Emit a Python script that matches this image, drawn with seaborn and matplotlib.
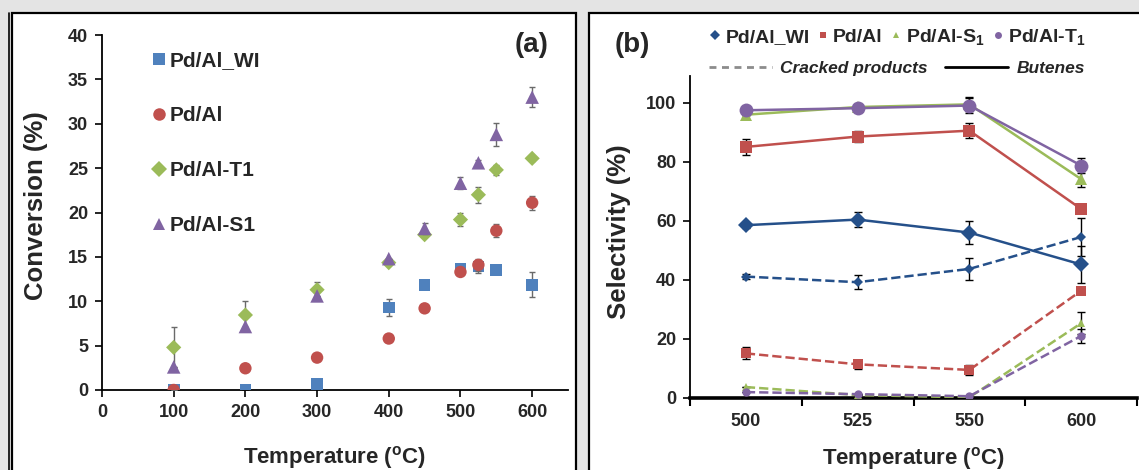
import numpy as np
import pandas as pd
import matplotlib
matplotlib.use("Agg")
import matplotlib.pyplot as plt
from matplotlib.lines import Line2D
from matplotlib.patches import Rectangle
import seaborn as sns

# ---------------- data: panel (a) conversion ----------------
temps_a = [100, 200, 300, 400, 450, 500, 525, 550, 600]
conv_wi = [0.0, 0.0, 0.65, 9.3, 11.85, 13.7, 13.9, 13.5, 11.85]
conv_wi_err = [0.0, 0.0, 0.0, 1.0, 0.4, 0.3, 0.7, 0.4, 1.4]
conv_al = [0.0, 2.45, 3.65, 5.8, 9.2, 13.3, 14.1, 17.95, 21.1]
conv_al_err = [0.0, 0.0, 0.0, 0.0, 0.0, 0.0, 0.7, 0.7, 0.8]
conv_t1 = [4.8, 8.45, 11.3, 14.35, 17.5, 19.2, 22.0, 24.8, 26.1]
conv_t1_err = [2.3, 1.6, 0.85, 0.0, 0.0, 0.7, 0.9, 0.6, 0.3]
conv_s1 = [2.6, 7.15, 10.6, 14.8, 18.2, 23.3, 25.6, 28.8, 33.0]
conv_s1_err = [0.0, 0.0, 0.0, 0.0, 0.6, 0.7, 0.3, 1.3, 1.1]
labels_a = ["Pd/Al_WI", "Pd/Al", "Pd/Al-T1", "Pd/Al-S1"]

# ---------------- data: panel (b) selectivity ----------------
temps_b = ["500", "525", "550", "600"]
but_wi = [58.5, 60.4, 56.0, 45.2]
but_wi_err = [0.8, 2.5, 3.8, 6.2]
but_al = [85.0, 88.5, 90.5, 64.0]
but_al_err = [2.7, 1.8, 2.6, 1.0]
but_s1 = [95.9, 98.5, 99.4, 74.1]
but_s1_err = [0.0, 0.5, 2.4, 2.8]
but_t1 = [97.4, 98.1, 99.0, 78.7]
but_t1_err = [0.0, 0.5, 2.4, 2.6]
crk_wi = [41.1, 39.2, 43.7, 54.5]
crk_wi_err = [0.8, 2.4, 3.7, 6.4]
crk_al = [15.1, 11.4, 9.5, 36.3]
crk_al_err = [2.0, 1.5, 1.8, 0.0]
crk_s1 = [3.7, 1.0, 0.2, 25.3]
crk_s1_err = [0.0, 0.0, 0.0, 3.7]
crk_t1 = [2.0, 1.3, 0.6, 21.0]
crk_t1_err = [0.0, 0.0, 0.0, 2.5]
labels_b = ["Pd/Al_WI", "Pd/Al", "Pd/Al-S$\\mathbf{_1}$", "Pd/Al-T$\\mathbf{_1}$"]

BLUE = "#4f81bd"
RED = "#c0504d"
GREEN = "#9bbb59"
PURPLE = "#8064a2"
NAVY = "#25508a"

sns.set_theme(style="white")
plt.rcParams["font.family"] = ["Liberation Sans", "DejaVu Sans"]
plt.rcParams["font.weight"] = "bold"
plt.rcParams["mathtext.fontset"] = "custom"
plt.rcParams["mathtext.rm"] = "Liberation Sans"
plt.rcParams["mathtext.bf"] = "Liberation Sans:bold"
plt.rcParams["mathtext.it"] = "Liberation Sans:italic:bold"

W, H = 1139, 470
fig = plt.figure(figsize=(W / 100, H / 100), dpi=100)
fig.patch.set_facecolor("#e4e4e4")

def px(x0, y0, x1, y1):
    return [x0 / W, 1 - y1 / H, (x1 - x0) / W, (y1 - y0) / H]

# panel frames
fig.patches.append(Rectangle((12 / W, -0.1), 564 / W, (H - 13) / H + 0.1, transform=fig.transFigure,
                             facecolor="white", edgecolor="black", lw=1.6, zorder=-5))
fig.patches.append(Rectangle((589 / W, -0.1), 0.6, (H - 13) / H + 0.1, transform=fig.transFigure,
                             facecolor="white", edgecolor="black", lw=1.6, zorder=-5))
fig.lines.append(Line2D([9 / W, 9 / W], [0, (H - 13) / H], transform=fig.transFigure,
                        color="black", lw=1.2, zorder=-4))

# ---------------- panel (a) ----------------
ax = fig.add_axes(px(102, 35, 568, 390))
ax.set_facecolor("none")
df_a = pd.DataFrame({
    "T": temps_a * 4,
    "conv": conv_wi + conv_al + conv_t1 + conv_s1,
    "err": conv_wi_err + conv_al_err + conv_t1_err + conv_s1_err,
    "cat": sum([[l] * len(temps_a) for l in labels_a], []),
})
pal_a = {"Pd/Al_WI": BLUE, "Pd/Al": RED, "Pd/Al-T1": GREEN, "Pd/Al-S1": PURPLE}
mk_a = {"Pd/Al_WI": "s", "Pd/Al": "o", "Pd/Al-T1": "D", "Pd/Al-S1": "^"}
sz_a = {"Pd/Al_WI": 70, "Pd/Al": 80, "Pd/Al-T1": 60, "Pd/Al-S1": 95}
for i, lab in enumerate(labels_a):
    d = df_a[df_a["cat"] == lab]
    ax.errorbar(d["T"], d["conv"], yerr=d["err"], fmt="none", ecolor="#6a6a6a",
                elinewidth=1.0, capsize=2.5, capthick=1.0, zorder=2 + i)
    sns.scatterplot(data=d, x="T", y="conv", color=pal_a[lab], marker=mk_a[lab],
                    s=sz_a[lab], edgecolor="none", ax=ax, zorder=3 + i, legend=False)

ax.set_xlim(0, 650)
ax.set_ylim(0, 40)
ax.set_xticks(range(0, 601, 100))
ax.set_yticks(range(0, 41, 5))
for s in ["top", "right"]:
    ax.spines[s].set_visible(False)
for s in ["left", "bottom"]:
    ax.spines[s].set_color("black")
    ax.spines[s].set_linewidth(1.3)
ax.tick_params(axis="both", direction="out", length=5, width=1.2, color="black",
               labelsize=13, pad=5, bottom=True, left=True)
for t in ax.get_xticklabels() + ax.get_yticklabels():
    t.set_fontweight("bold")
ax.set_xlabel("Temperature ($\\mathbf{^{o}}$C)", fontsize=16, fontweight="bold")
ax.set_ylabel("Conversion (%)", fontsize=18.5, fontweight="bold")
ax.xaxis.set_label_coords(0.5, -0.152)
ax.yaxis.set_label_coords(-0.115, 0.52)

handles_a = [Line2D([], [], ls="none", marker=mk_a[l], color=pal_a[l], markersize=9 if l != "Pd/Al-T1" else 8,
                    markeredgewidth=0) for l in labels_a]
leg = ax.legend(handles_a, labels_a, loc="upper left", bbox_to_anchor=(0.09, 0.977), frameon=False,
                prop={"size": 15, "weight": "bold"}, labelspacing=1.72, handlelength=0.6,
                handletextpad=0.22, borderaxespad=0)

fig.text(532 / W, 1 - 45 / H, "(a)", fontsize=20, fontweight="bold", ha="center", va="center")

# ---------------- panel (b) ----------------
bx = fig.add_axes(px(690, 76, 1137, 398))
bx.set_facecolor("none")
xpos = np.arange(len(temps_b))
series = [
    (crk_wi, crk_wi_err, NAVY, "D", 5.5, "--"),
    (crk_al, crk_al_err, RED, "s", 7, "--"),
    (crk_s1, crk_s1_err, GREEN, "^", 6, "--"),
    (crk_t1, crk_t1_err, PURPLE, "o", 6, "--"),
    (but_wi, but_wi_err, NAVY, "D", 8, "-"),
    (but_al, but_al_err, RED, "s", 8.5, "-"),
    (but_s1, but_s1_err, GREEN, "^", 9, "-"),
    (but_t1, but_t1_err, PURPLE, "o", 10, "-"),
]
for k, (vals, err, col, mk, ms, ls) in enumerate(series):
    bx.errorbar(xpos, vals, yerr=err, fmt="none", ecolor="black", elinewidth=1.0,
                capsize=3, capthick=1.0, zorder=3 + k)
    sns.lineplot(x=xpos, y=vals, color=col, marker=mk, markersize=ms, markeredgewidth=0,
                 linestyle=ls, linewidth=1.8, ax=bx, zorder=3 + k, legend=False,
                 **({"dashes": (3, 2)} if ls == "--" else {}))

bx.set_xlim(-0.5, len(temps_b) - 0.5)
bx.set_ylim(0, 109)
bx.set_yticks(range(0, 101, 20))
bx.set_xticks(np.arange(-0.5, len(temps_b), 1.0))
bx.set_xticklabels([])
bx.set_xticks(xpos, minor=True)
bx.set_xticklabels(temps_b, minor=True)
for s in ["top", "right"]:
    bx.spines[s].set_visible(False)
bx.spines["left"].set_color("black")
bx.spines["left"].set_linewidth(1.3)
bx.spines["bottom"].set_color("black")
bx.spines["bottom"].set_linewidth(2.6)
bx.tick_params(axis="x", which="major", direction="out", length=6, width=1.5, color="black", bottom=True)
bx.tick_params(axis="x", which="minor", length=0, labelsize=13, pad=11, bottom=True)
bx.tick_params(axis="y", direction="out", length=5, width=1.2, color="black", labelsize=13, pad=5, left=True)
for t in bx.get_xticklabels(minor=True) + bx.get_yticklabels():
    t.set_fontweight("bold")
bx.set_xlabel("Temperature ($\\mathbf{^{o}}$C)", fontsize=16, fontweight="bold")
bx.set_ylabel("Selectivity (%)", fontsize=18.5, fontweight="bold")
bx.xaxis.set_label_coords(0.5, -0.146)
bx.yaxis.set_label_coords(-0.132, 0.516)

mk_b = ["D", "s", "^", "o"]
col_b = [NAVY, RED, GREEN, PURPLE]
handles_b = [Line2D([], [], ls="none", marker=m, color=c, markersize=5, markeredgewidth=0)
             for m, c in zip(mk_b, col_b)]
leg1 = fig.legend(handles_b, labels_b, loc="center", bbox_to_anchor=(898.5 / W, 1 - 37 / H), ncol=4,
                  frameon=False, prop={"size": 14, "weight": "bold"}, handlelength=0.45,
                  handletextpad=0.3, columnspacing=0.45, borderaxespad=0, borderpad=0)
handles_c = [Line2D([], [], color="#8c8c8c", lw=2, ls=(0, (2.5, 2))), Line2D([], [], color="black", lw=2)]
leg2 = fig.legend(handles_c, ["Cracked products", "Butenes"], loc="center",
                  bbox_to_anchor=(897 / W, 1 - 68 / H), ncol=2, frameon=False,
                  prop={"size": 12.5, "weight": "bold", "style": "italic"}, handlelength=3.6,
                  handletextpad=0.5, columnspacing=1.0, borderaxespad=0, borderpad=0)

fig.text(632 / W, 1 - 45 / H, "(b)", fontsize=20, fontweight="bold", ha="center", va="center")

fig.savefig("out.png", dpi=100, facecolor=fig.get_facecolor())
